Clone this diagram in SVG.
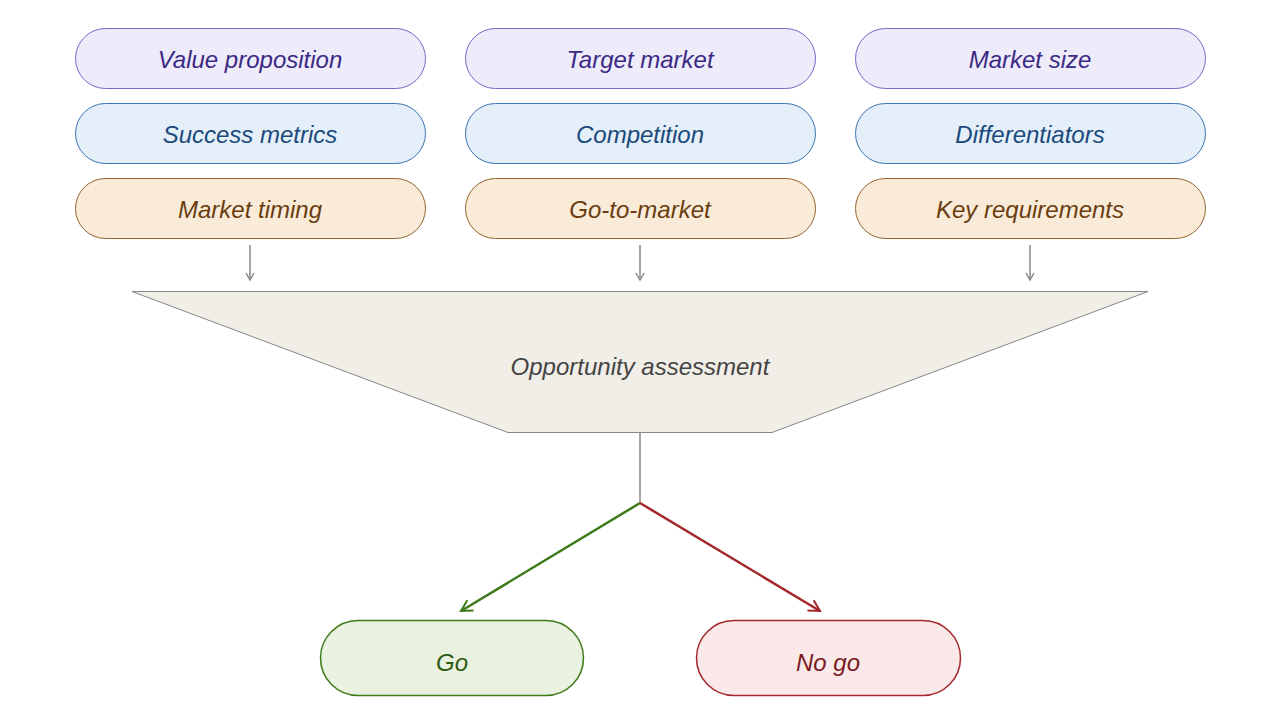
<svg xmlns="http://www.w3.org/2000/svg" width="1280" height="720" viewBox="0 0 1280 720">
<style>
text{font-family:"Liberation Sans","DejaVu Sans",sans-serif;font-style:italic;font-size:24px;text-anchor:middle;dominant-baseline:central}
.p rect{fill:#eeebfb;stroke:#7a66c6;stroke-width:1}
.p text{fill:#3b2a84}
.b rect{fill:#e4effa;stroke:#3a74b2;stroke-width:1}
.b text{fill:#1b4a7c}
.o rect{fill:#faebd9;stroke:#94642c;stroke-width:1}
.o text{fill:#6a3d10}
.feed{stroke:#888;stroke-width:1.5;fill:none}
</style>
<defs>
<marker id="ag" markerWidth="10" markerHeight="10" refX="8" refY="5" orient="auto" markerUnits="userSpaceOnUse"><path d="M1,1 L8,5 L1,9" fill="none" stroke="#888" stroke-width="1.5"/></marker>
<marker id="agr" markerWidth="16" markerHeight="16" refX="13" refY="8" orient="auto" markerUnits="userSpaceOnUse"><path d="M2,2 L13,8 L2,14" fill="none" stroke="#3f7a1a" stroke-width="2"/></marker>
<marker id="ard" markerWidth="16" markerHeight="16" refX="13" refY="8" orient="auto" markerUnits="userSpaceOnUse"><path d="M2,2 L13,8 L2,14" fill="none" stroke="#a3282c" stroke-width="2"/></marker>
</defs>
<g id="n-value" class="p"><rect x="75.5" y="28.5" width="350" height="60" rx="30"/><text x="250" y="59">Value proposition</text></g>
<g id="n-target" class="p"><rect x="465.5" y="28.5" width="350" height="60" rx="30"/><text x="640" y="59">Target market</text></g>
<g id="n-size" class="p"><rect x="855.5" y="28.5" width="350" height="60" rx="30"/><text x="1030" y="59">Market size</text></g>
<g id="n-success" class="b"><rect x="75.5" y="103.5" width="350" height="60" rx="30"/><text x="250" y="134">Success metrics</text></g>
<g id="n-competition" class="b"><rect x="465.5" y="103.5" width="350" height="60" rx="30"/><text x="640" y="134">Competition</text></g>
<g id="n-diff" class="b"><rect x="855.5" y="103.5" width="350" height="60" rx="30"/><text x="1030" y="134">Differentiators</text></g>
<g id="n-timing" class="o"><rect x="75.5" y="178.5" width="350" height="60" rx="30"/><text x="250" y="209">Market timing</text></g>
<g id="n-gtm" class="o"><rect x="465.5" y="178.5" width="350" height="60" rx="30"/><text x="640" y="209">Go-to-market</text></g>
<g id="n-req" class="o"><rect x="855.5" y="178.5" width="350" height="60" rx="30"/><text x="1030" y="209">Key requirements</text></g>
<g id="n-assess"><polygon points="132,291.5 1148,291.5 772,432.5 508,432.5" fill="#f1eee7" stroke="#888" stroke-width="1"/><text x="640" y="366" fill="#444">Opportunity assessment</text></g>
<g id="n-go"><rect x="320.5" y="620.5" width="263" height="75" rx="37.5" fill="#e8f2de" stroke="#3f7a1a" stroke-width="1.5"/><text x="452" y="662" fill="#2f5a14" font-size="26">Go</text></g>
<g id="n-nogo"><rect x="696.5" y="620.5" width="264" height="75" rx="37.5" fill="#fbe9e9" stroke="#a3282c" stroke-width="1.5"/><text x="828" y="662" fill="#7a1a1e" font-size="26">No go</text></g>
<g id="connectors">
<line class="feed" x1="250" y1="245" x2="250" y2="280" marker-end="url(#ag)"/>
<line class="feed" x1="640" y1="245" x2="640" y2="280" marker-end="url(#ag)"/>
<line class="feed" x1="1030" y1="245" x2="1030" y2="280" marker-end="url(#ag)"/>
<line x1="640" y1="433" x2="640" y2="503" stroke="#888" stroke-width="1.5"/>
<line x1="640" y1="503" x2="461" y2="611" stroke="#3f7a1a" stroke-width="2.5" marker-end="url(#agr)"/>
<line x1="640" y1="503" x2="820" y2="611" stroke="#a3282c" stroke-width="2.5" marker-end="url(#ard)"/>
</g>
</svg>
